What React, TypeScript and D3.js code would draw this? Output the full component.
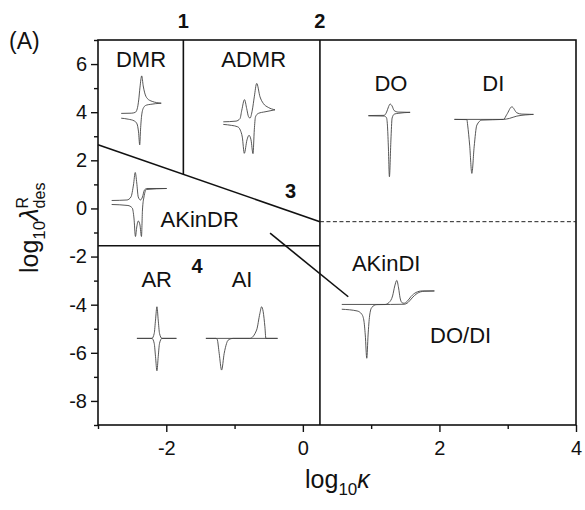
import React, { useEffect, useRef } from 'react';
import * as d3 from 'd3';

const W = 585;
const H = 510;
const FONT = 'Liberation Sans, Arial, Helvetica, sans-serif';

// axes: log10(kappa) vs log10(lambda_des^R)
const xDomain = [-3, 4];
const yDomain = [-9, 7];
const xMajor = [-2, 0, 2, 4];
const xMinor = [-3, -1, 1, 3];
const yMajor = [-8, -6, -4, -2, 0, 2, 4, 6];
const yMinor = [-9, -7, -5, -3, -1, 1, 3, 5, 7];

// zone boundaries, in (log kappa, log lambda)
const solidLines = [
  [[-1.75, 7], [-1.75, 1.42]],
  [[-3, 2.65], [0.25, -0.55]],
  [[0.25, 7], [0.25, -9]],
  [[-3, -1.55], [0.25, -1.55]],
  [[-0.48, -1.03], [0.665, -3.67]],
];
const dashedLines = [[[0.25, -0.55], [4, -0.55]]];

const zoneLabels = [
  { text: 'DMR', x: -2.37, y: 5.89 },
  { text: 'ADMR', x: -0.72, y: 5.89 },
  { text: 'DO', x: 1.29, y: 4.89 },
  { text: 'DI', x: 2.79, y: 4.89 },
  { text: 'AKinDR', x: -1.51, y: -0.76 },
  { text: 'AKinDI', x: 1.22, y: -2.58 },
  { text: 'DO/DI', x: 2.31, y: -5.6 },
  { text: 'AR', x: -2.14, y: -3.27 },
  { text: 'AI', x: -0.89, y: -3.27 },
];
const boundaryNumbers = [
  { text: '1', x: -1.75, y: 7.5 },
  { text: '2', x: 0.25, y: 7.5 },
  { text: '3', x: -0.18, y: 0.42 },
  { text: '4', x: -1.55, y: -2.67 },
];

// small voltammogram sketches: [potential, current]
const dmrForward = [[0, 0], [10, 0.2], [14, 1], [16, 4.5], [17.5, 13.5], [18.7, 25.5], [20.5, 37.5], [22, 27.5], [23.5, 20.5], [26, 15], [31, 12], [40, 10.2]];
const dmrReverse = [[0, -4.8], [7, -5.8], [13, -7.5], [15.8, -10.5], [17.3, -18.5], [18.5, -31.5], [19.3, -16.5], [20.5, -1.5], [22.5, 6], [25, 8.2], [29, 9], [40, 10.2]];
const admrForward = [[0, 0], [12.7, 0.7], [16.7, 3.2], [18.5, 11.7], [21.2, 22.2], [23.4, 13.2], [25.2, 5.2], [26.7, 3.7], [29, 11.7], [31, 25], [33.4, 38.4], [36.7, 25], [40, 18.4], [45, 14.4], [51.7, 12]];
const admrReverse = [[0, -2.6], [8.4, -3.6], [14.4, -5], [17, -8.3], [19, -15.3], [21, -31.5], [23.7, -18], [25.7, -13.5], [27.7, -18], [29.7, -31.8], [31, -8], [32.2, 5], [35, 8.4], [41.7, 10], [51.7, 12]];
const akinDrForward = [[0, 0], [15.3, 0.5], [19.3, 3.5], [21.8, 15.5], [23.6, 28], [25.1, 17.5], [26.6, 3.5], [28.8, 0.5], [30.8, 3.5], [32.8, 10.5], [35.3, 12], [55, 12]];
const akinDrReverse = [[0, -4], [16.3, -5], [20.6, -7.5], [22.3, -17.5], [23.8, -36], [25.1, -26.5], [26.6, -20.5], [28.3, -24.5], [29.8, -36], [30.8, -9.5], [32.3, 3.5], [34.8, 11], [55, 12]];
const arForward = [[0, 0], [15, 0], [17.3, 5], [18.6, 18.3], [20, 31.6], [21.3, 18.3], [22.6, 5], [25, 0], [39.5, 0]];
const arReverse = [[0, 0], [15, 0], [17.3, -5], [18.6, -18.3], [20, -32.4], [21.3, -18.3], [22.6, -5], [25, 0], [39.5, 0]];
const aiForward = [[0, 0], [44, 0], [50.7, 8.3], [54, 25], [55.7, 31.6], [57.3, 26.6], [59, 11.6], [60, 0], [71.7, 0]];
const aiReverse = [[0, 0], [10, 0], [11.3, -1], [13.3, -15], [15.7, -31.7], [18.3, -15], [20.7, -5], [22, -2], [27.3, 0], [71.7, 0]];
const doForward = [[0, 0], [15.7, 0.2], [18.2, 3.5], [20.2, 9], [21.7, 11.5], [23.7, 9.5], [25.7, 5], [29.7, 3.5], [41.7, 3.2]];
const doReverse = [[0, -0.3], [15.7, -0.5], [18, -2], [19, -9.5], [19.9, -29.5], [21, -61.2], [22.5, -24.5], [23.7, -2.5], [26, 1.5], [29.7, 2.2], [41.7, 3.2]];
const diForward = [[0, 0], [49, 0], [52.4, 5], [57.4, 12.6], [62.4, 6.6], [67.4, 5.3], [79, 5]];
const diReverse = [[0, 0], [12.4, -0.2], [13.2, -5.7], [15.2, -25.7], [17.4, -54], [19.7, -27.4], [22.4, -5.7], [27.4, -0.7], [49, 0], [55, 1], [62.4, 3.3], [79, 5]];
const akinDiForward = [[0, 0], [43.3, 0], [47.3, 2], [50.8, 8.5], [53, 18.5], [55, 24], [56.8, 16.5], [58.3, 6.5], [60.3, 1.7], [62.3, 1.2], [65.3, 3], [69.3, 8], [74.3, 12], [80.3, 13.5], [92.6, 13.5]];
const akinDiReverse = [[0, -4.8], [15.3, -6.5], [19.8, -9.5], [22, -15.5], [23.5, -30.5], [25, -53.8], [26.3, -30.5], [27.8, -11.5], [30, -3], [35, -0.2], [62.3, 0.2], [66.3, 2], [70.3, 6.5], [75.3, 11], [82.3, 13.2], [92.6, 13.5]];

// where each sketch starts (left end of its baseline), in plot coordinates
const insets = [
  { anchor: [-2.66, 3.95], branches: [dmrForward, dmrReverse] },
  { anchor: [-1.165, 3.6], branches: [admrForward, admrReverse] },
  { anchor: [-2.8, 0.33], branches: [akinDrForward, akinDrReverse] },
  { anchor: [-2.43, -5.4], branches: [arForward, arReverse] },
  { anchor: [-1.42, -5.4], branches: [aiForward, aiReverse] },
  { anchor: [0.96, 3.86], branches: [doForward, doReverse] },
  { anchor: [2.22, 3.7], branches: [diForward, diReverse] },
  { anchor: [0.57, -3.99], branches: [akinDiForward, akinDiReverse] },
];

export default function App() {
  const axRef = useRef<SVGGElement>(null);

  const x = d3.scaleLinear().domain(xDomain).range([98, 576]);
  const y = d3.scaleLinear().domain(yDomain).range([425, 40]);

  useEffect(() => {
    const g = d3.select(axRef.current);
    g.selectAll('*').remove();

    const style = (sel: any) => {
      sel.select('.domain').remove();
      sel.selectAll('line').attr('stroke', '#111').attr('stroke-width', 1.4);
      sel.selectAll('text').attr('font-size', 20).attr('font-family', FONT).attr('fill', '#111');
    };

    g.append('g').attr('transform', 'translate(0,425)')
      .call(d3.axisBottom(x).tickValues(xMajor).tickSize(7).tickPadding(9).tickFormat((d: any) => String(d)))
      .call(style);
    g.append('g').attr('transform', 'translate(0,425)')
      .call(d3.axisBottom(x).tickValues(xMinor).tickSize(4).tickFormat(() => ''))
      .call(style);
    g.append('g').attr('transform', 'translate(98,0)')
      .call(d3.axisLeft(y).tickValues(yMajor).tickSize(7).tickPadding(4).tickFormat((d: any) => String(d)))
      .call(style);
    g.append('g').attr('transform', 'translate(98,0)')
      .call(d3.axisLeft(y).tickValues(yMinor).tickSize(4).tickFormat(() => ''))
      .call(style);
  }, []);

  const segment = d3.line<number[]>().x(d => x(d[0])).y(d => y(d[1]));

  return (
    <svg width={W} height={H} style={{ position: 'absolute', left: 0, top: 0, background: '#fff' }} fontFamily={FONT}>
      <rect x={98} y={40} width={478} height={385} fill="none" stroke="#111" strokeWidth={1.6} />
      <g ref={axRef} />

      {solidLines.map((l, i) => (
        <path key={'s' + i} d={segment(l) || ''} fill="none" stroke="#111" strokeWidth={1.6} />
      ))}
      {dashedLines.map((l, i) => (
        <path key={'d' + i} d={segment(l) || ''} fill="none" stroke="#222" strokeWidth={1} strokeDasharray="4 2.5" />
      ))}

      {insets.map((ins, i) => {
        const ex = d3.scaleLinear().domain([0, 1]).range([x(ins.anchor[0]), x(ins.anchor[0]) + 1]);
        const iy = d3.scaleLinear().domain([0, 1]).range([y(ins.anchor[1]), y(ins.anchor[1]) - 1]);
        const line = d3.line<number[]>().x(d => ex(d[0])).y(d => iy(d[1])).curve(d3.curveMonotoneX);
        return (
          <g key={'i' + i}>
            {ins.branches.map((b, j) => (
              <path key={j} d={line(b) || ''} fill="none" stroke="#444" strokeWidth={0.9} />
            ))}
          </g>
        );
      })}

      {zoneLabels.map(l => (
        <text key={l.text} x={x(l.x)} y={y(l.y)} textAnchor="middle" fontSize={22} fill="#111">{l.text}</text>
      ))}
      {boundaryNumbers.map(l => (
        <text key={l.text} x={x(l.x)} y={y(l.y)} textAnchor="middle" fontSize={20} fontWeight="bold" fill="#111">{l.text}</text>
      ))}

      <text x={9} y={49} fontSize={23} fill="#111">(A)</text>

      <text x={305} y={488} fontSize={25} fill="#111">
        log<tspan fontSize={17} dy={7}>10</tspan><tspan dy={-7} fontStyle="italic">κ</tspan>
      </text>

      <text transform="translate(38,273) rotate(-90)" fontSize={25} fill="#111">
        log<tspan fontSize={17} dy={7}>10</tspan><tspan dy={-7} fontStyle="italic">λ</tspan>
        <tspan fontSize={16} dy={7}>des</tspan>
        <tspan fontSize={16} dx={-26} dy={-17}>R</tspan>
      </text>
    </svg>
  );
}
